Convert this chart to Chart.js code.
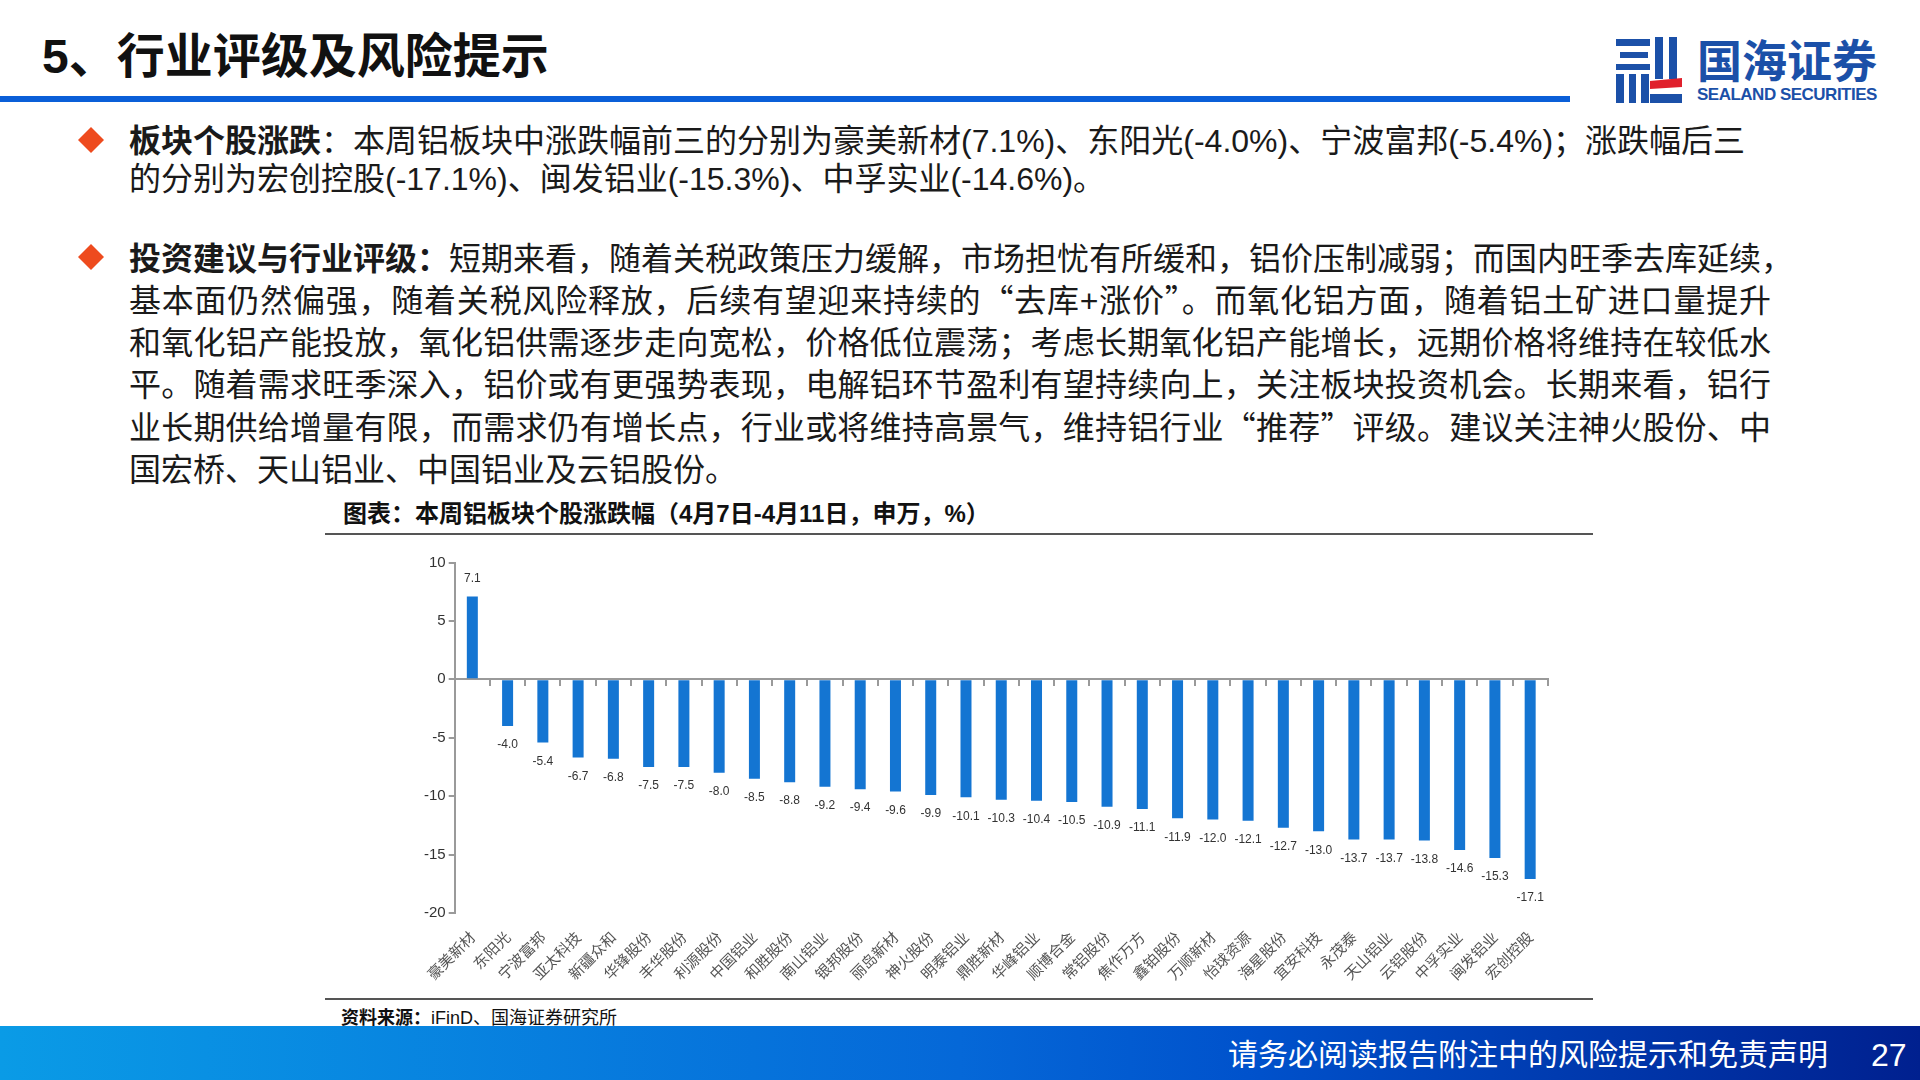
<!DOCTYPE html>
<html lang="zh-CN">
<head>
<meta charset="utf-8">
<script src="https://cdn.jsdelivr.net/npm/chart.js@4"></script>
<style>
  html, body { margin: 0; padding: 0; background: #fff; }
  #page { position: relative; width: 1920px; height: 1080px; overflow: hidden; font-family: "Liberation Sans", "Noto Sans CJK SC", sans-serif; color: #111; }
  #page > div { position: absolute; white-space: nowrap; }
  .title { left: 42px; top: 27px; font-size: 48px; line-height: 60px; font-weight: 700; }
  .bar-top { left: 0; top: 96px; width: 1570px; height: 6px; background: #0a5fd8; }
  .ln { left: 129px; font-size: 32px; line-height: 42px; height: 42px; color: #1a1a1a; text-align: justify; text-align-last: justify; }
  .ln.free { text-align: left; text-align-last: left; }
  .q { font-family: "Noto Sans CJK SC"; line-height: 0; }
  .dia { width: 26px; height: 26px; left: 78px; background: #ee4b1e; clip-path: polygon(50% 0, 100% 50%, 50% 100%, 0 50%); }
  .ct { left: 343px; top: 498px; font-size: 24px; line-height: 32px; font-weight: 700; }
  .rule { left: 325px; width: 1268px; height: 2px; background: #555; }
  .src { left: 341px; top: 1006px; font-size: 18px; line-height: 24px; }
  .foot { left: 0; top: 1026px; width: 1920px; height: 54px; background: linear-gradient(90deg, #0a9be6 0%, #0568d8 50%, #0052cc 65%, #00208f 100%); }
  .foot-txt { left: 1228px; top: 1035px; font-size: 30px; line-height: 40px; color: #fff; }
  .foot-num { left: 1871px; top: 1035px; font-size: 32px; line-height: 40px; color: #fff; }
  .logo-a { left: 1697px; top: 36px; font-size: 45px; line-height: 54px; font-weight: 700; color: #1b50a8; }
  .logo-b { left: 1697px; top: 85px; font-size: 17px; line-height: 20px; font-weight: 700; color: #1b50a8; letter-spacing: -0.5px; }
  #wrap { left: 340px; top: 541px; }
</style>
</head>
<body>
<div id="page">
  <div class="title">5、行业评级及风险提示</div>
  <div class="bar-top"></div>
  <svg style="position:absolute;left:1616px;top:37px" width="66" height="68" viewBox="0 0 66 68">
    <g fill="#1b50a8">
      <rect x="0" y="2" width="34" height="7"/><rect x="4" y="15" width="28" height="6"/>
      <rect x="0" y="27" width="34" height="6"/><rect x="0" y="37" width="8" height="29"/>
      <rect x="13" y="37" width="7" height="29"/><rect x="25" y="37" width="8" height="29"/>
      <rect x="39" y="0" width="8" height="42"/><rect x="53" y="0" width="8" height="42"/>
      <rect x="34" y="57" width="32" height="9"/>
    </g>
    <polygon points="34,44 66,41 66,50 34,52" fill="#e0202c"/>
  </svg>
  <div class="logo-a">国海证券</div>
  <div class="logo-b">SEALAND SECURITIES</div>

  <div class="dia" style="top:127px"></div>
  <div class="ln" style="top:120px;width:1615px"><b>板块个股涨跌</b>：本周铝板块中涨跌幅前三的分别为豪美新材(7.1%)、东阳光(-4.0%)、宁波富邦(-5.4%)；涨跌幅后三</div>
  <div class="ln free" style="top:158px">的分别为宏创控股(-17.1%)、闽发铝业(-15.3%)、中孚实业(-14.6%)。</div>

  <div class="dia" style="top:244px"></div>
  <div class="ln" style="top:238px;width:1644px"><b>投资建议与行业评级：</b>短期来看，随着关税政策压力缓解，市场担忧有所缓和，铝价压制减弱；而国内旺季去库延续，</div>
  <div class="ln" style="top:280px;width:1642px">基本面仍然偏强，随着关税风险释放，后续有望迎来持续的<span class="q">“</span>去库+涨价<span class="q">”</span>。而氧化铝方面，随着铝土矿进口量提升</div>
  <div class="ln" style="top:322px;width:1642px">和氧化铝产能投放，氧化铝供需逐步走向宽松，价格低位震荡；考虑长期氧化铝产能增长，远期价格将维持在较低水</div>
  <div class="ln" style="top:364px;width:1642px">平。随着需求旺季深入，铝价或有更强势表现，电解铝环节盈利有望持续向上，关注板块投资机会。长期来看，铝行</div>
  <div class="ln" style="top:407px;width:1642px">业长期供给增量有限，而需求仍有增长点，行业或将维持高景气，维持铝行业<span class="q">“</span>推荐<span class="q">”</span>评级。建议关注神火股份、中</div>
  <div class="ln free" style="top:449px">国宏桥、天山铝业、中国铝业及云铝股份。</div>

  <div class="ct">图表：本周铝板块个股涨跌幅（4月7日-4月11日，申万，%）</div>
  <div class="rule" style="top:533px"></div>
  <div id="wrap"><canvas id="chart" width="1240" height="460"></canvas></div>
  <div class="rule" style="top:998px"></div>
  <div class="src"><b>资料来源：</b>iFinD、国海证券研究所</div>

  <div class="foot"></div>
  <div class="foot-txt">请务必阅读报告附注中的风险提示和免责声明</div>
  <div class="foot-num">27</div>
</div>

<script>
const categories = ['豪美新材', '东阳光', '宁波富邦', '亚太科技', '新疆众和', '华锋股份', '丰华股份', '利源股份', '中国铝业', '和胜股份', '南山铝业', '银邦股份', '丽岛新材', '神火股份', '明泰铝业', '鼎胜新材', '华峰铝业', '顺博合金', '常铝股份', '焦作万方', '鑫铂股份', '万顺新材', '怡球资源', '海星股份', '宜安科技', '永茂泰', '天山铝业', '云铝股份', '中孚实业', '闽发铝业', '宏创控股'];
const changes = [7.1, -4.0, -5.4, -6.7, -6.8, -7.5, -7.5, -8.0, -8.5, -8.8, -9.2, -9.4, -9.6, -9.9, -10.1, -10.3, -10.4, -10.5, -10.9, -11.1, -11.9, -12.0, -12.1, -12.7, -13.0, -13.7, -13.7, -13.8, -14.6, -15.3, -17.1];

const axisGray = '#9a9a9a';

// value labels above / below each bar
const barLabels = {
  id: 'barLabels',
  afterDatasetsDraw(chart) {
    const ctx = chart.ctx;
    ctx.save();
    ctx.font = '12px "Liberation Sans"';
    ctx.fillStyle = '#333';
    ctx.textAlign = 'center';
    ctx.textBaseline = 'middle';
    chart.getDatasetMeta(0).data.forEach((bar, i) => {
      const v = changes[i];
      ctx.fillText(v.toFixed(1), bar.x, v >= 0 ? bar.y - 18 : bar.y + 19);
    });
    ctx.restore();
  }
};

new Chart(document.getElementById('chart'), {
  type: 'bar',
  data: {
    labels: categories,
    datasets: [{
      data: changes,
      xAxisID: 'x',
      yAxisID: 'y',
      backgroundColor: '#1475d2',
      barPercentage: 0.312,
      categoryPercentage: 1
    }]
  },
  plugins: [barLabels],
  options: {
    responsive: false,
    animation: false,
    devicePixelRatio: 1,
    layout: { padding: { left: 0, right: 32.2, top: 21.5, bottom: 0 } },
    plugins: { legend: { display: false }, tooltip: { enabled: false } },
    scales: {
      x: {
        position: 'bottom',
        offset: true,
        border: { display: false },
        grid: { display: false },
        afterFit: (s) => { s.height = 88; },
        ticks: {
          autoSkip: false,
          minRotation: 45,
          maxRotation: 45,
          padding: 7,
          color: '#555',
          font: { family: '"Noto Sans CJK SC"', size: 15 }
        }
      },
      // second category axis: the line and tick marks at zero
      zero: {
        type: 'category',
        axis: 'x',
        labels: categories,
        position: { y: 0 },
        offset: true,
        z: 1,
        border: { display: true, color: axisGray, width: 2 },
        grid: { drawOnChartArea: false, offset: true, color: axisGray, lineWidth: 2, tickLength: 6 },
        ticks: { display: false, autoSkip: false }
      },
      y: {
        min: -20,
        max: 10,
        afterFit: (s) => { s.width = 114.7; },
        border: { display: true, color: axisGray, width: 2 },
        grid: { drawOnChartArea: false, color: axisGray, lineWidth: 2, tickLength: 6 },
        ticks: {
          stepSize: 5,
          padding: 3,
          color: '#333',
          font: { family: '"Liberation Sans"', size: 15 }
        }
      }
    }
  }
});
</script>
</body>
</html>
